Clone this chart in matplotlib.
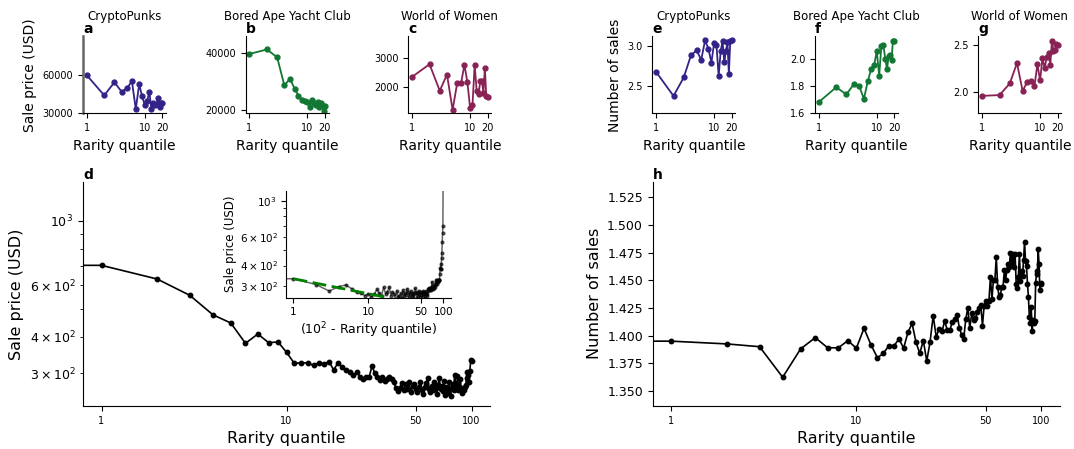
import matplotlib

matplotlib.use("Agg")
import matplotlib.pyplot as plt
import numpy as np
from matplotlib.ticker import NullLocator


# rarity quantiles of the three collections (top row)
QUANTILE_TOP = list(range(1, 21))

PUNKS_PRICE = [60000, 44100, 54500, 46900, 50100, 55300, 33400, 52700, 43500, 36500,
               39900, 46900, 33600, 37800, 36300, 37300, 41700, 34700, 38300, 37800]
BAYC_PRICE = [39800, 41400, 38600, 28600, 31000, 27400, 25000, 23600, 23000, 22800,
              21000, 23600, 22400, 21500, 22800, 21000, 22500, 21800, 19600, 21400]
WOW_PRICE = [2355, 2800, 1870, 2435, 1200, 2140, 2140, 2780, 2160, 1276,
             1360, 2770, 1870, 1750, 2200, 2200, 1800, 2680, 1700, 1650]

PUNKS_SALES = [2.676, 2.37, 2.606, 2.887, 2.95, 2.83, 3.076, 2.97, 2.795, 3.04,
               3.016, 2.62, 2.94, 3.067, 2.80, 2.94, 3.05, 2.647, 3.07, 3.085]
BAYC_SALES = [1.683, 1.793, 1.74, 1.815, 1.80, 1.707, 1.837, 1.928, 1.955, 2.06,
              1.88, 2.097, 2.104, 2.005, 1.926, 2.021, 2.03, 1.998, 2.139, 2.134]
WOW_SALES = [1.957, 1.965, 2.09, 2.31, 2.01, 2.107, 2.122, 2.06, 2.297, 2.125,
             2.36, 2.257, 2.37, 2.42, 2.29, 2.55, 2.44, 2.45, 2.52, 2.50]

# all collections, quantile 0..100 (bottom row)
QUANTILE_ALL = list(range(0, 101))

ALL_PRICE = [1800,
             703, 631, 555, 476, 446, 380, 409, 382, 384, 354,
             325, 325, 326, 319, 326, 323, 328, 308, 326, 315,
             309, 303, 295, 302, 292, 287, 292, 292, 318, 300,
             292, 284, 292, 282, 287, 292, 286, 279, 268, 261,
             268, 278, 262, 275, 266, 279, 258, 272, 276, 264,
             258, 270, 281, 262, 254, 270, 277, 290, 266, 258,
             272, 262, 279, 268, 255, 274, 288, 265, 272, 260,
             283, 252, 270, 262, 256, 281, 250, 268, 275, 262,
             296, 276, 268, 294, 262, 270, 286, 266, 257, 268,
             262, 270, 274, 288, 304, 297, 279, 306, 332, 330]

ALL_SALES = [1.395,
             1.395, 1.3925, 1.390, 1.3624, 1.388, 1.3982, 1.389, 1.389, 1.3955, 1.3886,
             1.4066, 1.3916, 1.380, 1.384, 1.391, 1.391, 1.397, 1.3886, 1.403, 1.411,
             1.394, 1.384, 1.3955, 1.377, 1.394, 1.418, 1.399, 1.406, 1.404, 1.413,
             1.405, 1.405, 1.4125, 1.415, 1.419, 1.407, 1.401, 1.397, 1.415, 1.425,
             1.407, 1.420, 1.414, 1.416, 1.421, 1.425, 1.428, 1.409, 1.427, 1.431,
             1.427, 1.431, 1.453, 1.433, 1.450, 1.450, 1.471, 1.444, 1.435, 1.437,
             1.444, 1.444, 1.459, 1.450, 1.459, 1.465, 1.462, 1.475, 1.465, 1.474,
             1.462, 1.474, 1.447, 1.443, 1.453, 1.474, 1.449, 1.458, 1.454, 1.468,
             1.485, 1.467, 1.463, 1.447, 1.435, 1.417, 1.411, 1.426, 1.404, 1.414,
             1.411, 1.413, 1.448, 1.456, 1.458, 1.478, 1.465, 1.441, 1.448, 1.447]

# power-law fit shown in the inset
FIT_A = 332.0
FIT_B = -0.092
FIT_X = [1, 18]

COLORS = ["#332288", "#117733", "#882255"]
TITLES = ["CryptoPunks", "Bored Ape Yacht Club", "World of Women"]

W, H = 1074, 449


def px_axes(fig, left, top, right, bottom):
    return fig.add_axes([left / W, 1 - bottom / H, (right - left) / W, (bottom - top) / H])


def clean(ax):
    ax.spines["top"].set_visible(False)
    ax.spines["right"].set_visible(False)


def small_panel(ax, values, color, title, letter, yticks, ylim, ylabel=None):
    ax.plot(QUANTILE_TOP, values, "-o", color=color, lw=1.3, ms=3.5)
    ax.set_xscale("log")
    ax.set_xticks([1, 10, 20])
    ax.set_xticklabels(["1", "10", "20"])
    ax.xaxis.set_minor_locator(NullLocator())
    ax.set_yticks(yticks)
    ax.set_ylim(ylim)
    ax.tick_params(labelsize=7)
    ax.set_xlabel("Rarity quantile", fontsize=10)
    if ylabel:
        ax.set_ylabel(ylabel, fontsize=10)
    ax.set_title(title, fontsize=8.5, pad=12)
    ax.text(0, 1.0, letter, transform=ax.transAxes, fontsize=10,
            fontweight="bold", ha="left", va="bottom")
    clean(ax)


def main():
    fig = plt.figure(figsize=(W / 100, H / 100), dpi=100)

    lefts_price = [83, 245.7, 408.3]
    lefts_sales = [652.3, 815, 978.3]
    price_data = [PUNKS_PRICE, BAYC_PRICE, WOW_PRICE]
    sales_data = [PUNKS_SALES, BAYC_SALES, WOW_SALES]
    price_ticks = [[30000, 60000], [20000, 40000], [2000, 3000]]
    price_lims = [(30000, 90500), (18700, 46000), (1080, 3770)]
    sales_ticks = [[2.5, 3.0], [1.6, 1.8, 2.0], [2.0, 2.5]]
    sales_lims = [(2.15, 3.126), (1.6, 2.169), (1.769, 2.596)]

    for i in range(3):
        ax = px_axes(fig, lefts_price[i], 36.5, lefts_price[i] + 83, 113.3)
        small_panel(ax, price_data[i], COLORS[i], TITLES[i], "abc"[i],
                    price_ticks[i], price_lims[i],
                    "Sale price (USD)" if i == 0 else None)
        if i == 0:
            # first panel has a heavier grey left spine in the original
            ax.spines["left"].set_linewidth(1.8)
            ax.spines["left"].set_color("0.4")
    for i in range(3):
        ax = px_axes(fig, lefts_sales[i], 36.5, lefts_sales[i] + 83, 113.3)
        small_panel(ax, sales_data[i], COLORS[i], TITLES[i], "efg"[i],
                    sales_ticks[i], sales_lims[i],
                    "Number of sales" if i == 0 else None)

    # panel d
    ax_d = px_axes(fig, 83, 182, 490, 406)
    ax_d.plot(QUANTILE_ALL, ALL_PRICE, "-o", color="black", lw=1.2, ms=3.2)
    ax_d.set_xscale("log")
    ax_d.set_yscale("log")
    ax_d.set_ylim(231.7, 1357)
    ax_d.set_xticks([1, 10, 50, 100])
    ax_d.set_xticklabels(["1", "10", "50", "100"])
    ax_d.xaxis.set_minor_locator(NullLocator())
    ax_d.tick_params(axis="x", labelsize=7)
    ax_d.tick_params(axis="y", which="both", labelsize=9)
    ax_d.set_xlabel("Rarity quantile", fontsize=11.5)
    ax_d.set_ylabel("Sale price (USD)", fontsize=11.5)
    ax_d.text(0, 1.0, "d", transform=ax_d.transAxes, fontsize=10,
              fontweight="bold", ha="left", va="bottom")
    clean(ax_d)

    # inset of d
    ax_in = px_axes(fig, 286, 190.7, 450.7, 297.7)
    inv_q = [100 - q for q in QUANTILE_ALL]
    ax_in.plot(inv_q, ALL_PRICE, "-o", color="black", alpha=0.6, lw=1.1, ms=2)
    fit_x = np.array(FIT_X, dtype=float)
    ax_in.plot(fit_x, FIT_A * fit_x ** FIT_B, "--", color="green", lw=2, dashes=(5, 2))
    ax_in.set_xscale("log")
    ax_in.set_yscale("log")
    ax_in.set_ylim(254, 1151)
    ax_in.set_xticks([1, 10, 50, 100])
    ax_in.set_xticklabels(["1", "10", "50", "100"])
    ax_in.xaxis.set_minor_locator(NullLocator())
    ax_in.tick_params(axis="both", which="both", labelsize=7.5)
    ax_in.set_xlabel("(10$^2$ - Rarity quantile)", fontsize=9, labelpad=2)
    ax_in.set_ylabel("Sale price (USD)", fontsize=8.5, labelpad=2)
    clean(ax_in)

    # panel h
    ax_h = px_axes(fig, 652.7, 181.7, 1060, 406)
    ax_h.plot(QUANTILE_ALL, ALL_SALES, "-o", color="black", lw=1.2, ms=3.2)
    ax_h.set_xscale("log")
    ax_h.set_ylim(1.3364, 1.5391)
    ax_h.set_yticks([1.350, 1.375, 1.400, 1.425, 1.450, 1.475, 1.500, 1.525])
    ax_h.set_yticklabels(["1.350", "1.375", "1.400", "1.425", "1.450", "1.475", "1.500", "1.525"])
    ax_h.set_xticks([1, 10, 50, 100])
    ax_h.set_xticklabels(["1", "10", "50", "100"])
    ax_h.xaxis.set_minor_locator(NullLocator())
    ax_h.tick_params(axis="x", labelsize=7)
    ax_h.tick_params(axis="y", labelsize=9)
    ax_h.set_xlabel("Rarity quantile", fontsize=11.5)
    ax_h.set_ylabel("Number of sales", fontsize=11.5)
    ax_h.text(0, 1.0, "h", transform=ax_h.transAxes, fontsize=10,
              fontweight="bold", ha="left", va="bottom")
    clean(ax_h)

    fig.savefig("out.png", dpi=100)
    plt.close(fig)


if __name__ == "__main__":
    main()
